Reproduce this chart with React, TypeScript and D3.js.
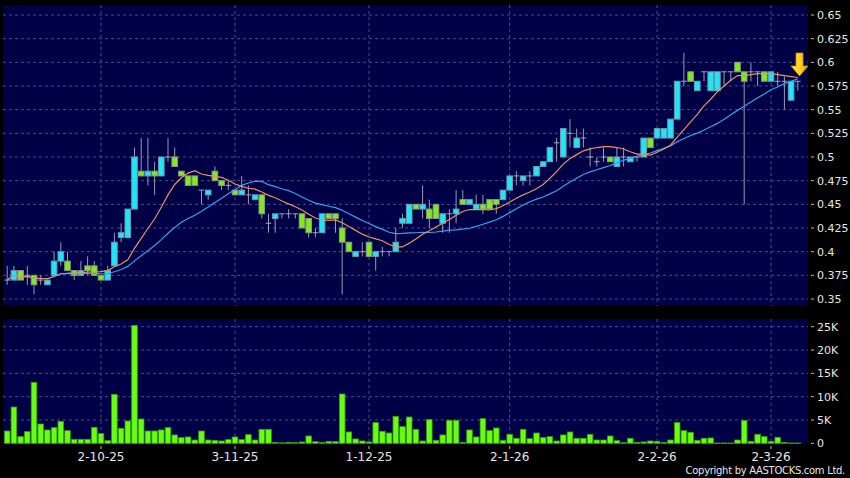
import React from "react";
import * as d3 from "d3";

const opens = [0.37,0.37,0.38,0.375,0.375,0.37,0.365,0.375,0.39,0.39,0.38,0.375,0.385,0.385,0.375,0.37,0.385,0.415,0.415,0.445,
0.485,0.48,0.485,0.48,0.50,0.50,0.485,0.48,0.48,0.465,0.46,0.485,0.475,0.47,0.465,0.46,0.46,0.455,0.46,0.43,
0.435,0.44,0.44,0.44,0.44,0.435,0.42,0.42,0.44,0.44,0.425,0.41,0.395,0.40,0.41,0.395,0.40,0.40,0.40,0.43,
0.43,0.45,0.445,0.445,0.45,0.43,0.44,0.44,0.455,0.45,0.445,0.45,0.455,0.455,0.455,0.465,0.48,0.475,0.48,0.48,
0.49,0.495,0.515,0.50,0.525,0.51,0.52,0.50,0.495,0.50,0.50,0.49,0.50,0.495,0.50,0.50,0.52,0.52,0.52,0.52,
0.54,0.58,0.59,0.57,0.59,0.57,0.57,0.59,0.59,0.60,0.59,0.59,0.59,0.59,0.58,0.58,0.58,0.56,0.58];
const highs = [0.385,0.385,0.38,0.385,0.375,0.375,0.37,0.40,0.41,0.40,0.38,0.39,0.395,0.39,0.375,0.385,0.42,0.43,0.445,0.51,
0.52,0.52,0.495,0.50,0.52,0.51,0.485,0.48,0.48,0.465,0.465,0.49,0.475,0.475,0.465,0.48,0.47,0.46,0.46,0.44,
0.44,0.44,0.445,0.44,0.44,0.435,0.425,0.44,0.44,0.44,0.435,0.41,0.40,0.41,0.41,0.40,0.405,0.40,0.425,0.44,
0.45,0.45,0.47,0.455,0.45,0.44,0.445,0.465,0.465,0.455,0.46,0.46,0.455,0.455,0.465,0.48,0.485,0.48,0.485,0.49,
0.495,0.51,0.52,0.53,0.54,0.53,0.53,0.51,0.50,0.51,0.50,0.51,0.51,0.50,0.50,0.52,0.52,0.53,0.53,0.54,
0.58,0.61,0.59,0.58,0.59,0.59,0.59,0.59,0.59,0.60,0.59,0.60,0.59,0.59,0.59,0.59,0.585,0.58,0.58];
const lows = [0.365,0.37,0.37,0.365,0.355,0.365,0.365,0.375,0.385,0.38,0.37,0.375,0.375,0.375,0.37,0.37,0.385,0.41,0.415,0.445,
0.48,0.47,0.46,0.48,0.495,0.49,0.48,0.47,0.47,0.45,0.455,0.475,0.465,0.465,0.46,0.46,0.45,0.455,0.435,0.42,
0.42,0.435,0.435,0.435,0.425,0.415,0.415,0.42,0.435,0.42,0.355,0.40,0.395,0.395,0.395,0.38,0.395,0.395,0.40,0.425,
0.43,0.445,0.435,0.425,0.435,0.42,0.42,0.43,0.45,0.45,0.445,0.44,0.445,0.44,0.455,0.465,0.47,0.47,0.47,0.48,
0.49,0.495,0.495,0.50,0.51,0.51,0.51,0.49,0.49,0.495,0.495,0.49,0.49,0.495,0.495,0.50,0.51,0.52,0.52,0.52,
0.54,0.575,0.58,0.57,0.58,0.57,0.57,0.575,0.58,0.59,0.45,0.58,0.575,0.58,0.58,0.575,0.55,0.56,0.57];
const closes = [0.37,0.38,0.37,0.375,0.365,0.37,0.37,0.39,0.40,0.38,0.375,0.38,0.38,0.375,0.37,0.38,0.41,0.42,0.445,0.50,
0.48,0.485,0.48,0.50,0.50,0.49,0.48,0.47,0.47,0.465,0.465,0.475,0.47,0.47,0.46,0.465,0.46,0.46,0.44,0.43,
0.44,0.44,0.44,0.44,0.425,0.42,0.42,0.44,0.435,0.435,0.41,0.40,0.40,0.40,0.395,0.40,0.40,0.40,0.41,0.435,
0.45,0.445,0.45,0.435,0.435,0.44,0.44,0.445,0.45,0.455,0.45,0.445,0.445,0.45,0.465,0.48,0.48,0.48,0.48,0.49,
0.495,0.51,0.515,0.53,0.525,0.52,0.52,0.50,0.495,0.50,0.495,0.50,0.50,0.50,0.50,0.52,0.51,0.53,0.53,0.54,
0.58,0.58,0.58,0.58,0.59,0.59,0.59,0.59,0.59,0.59,0.58,0.59,0.59,0.58,0.59,0.58,0.58,0.58,0.58];
const volumes = [2640,7780,1430,2500,13070,4140,2860,3360,4710,2710,860,860,860,3430,2070,570,10500,3210,4780,25280,
5210,2640,2640,2860,3360,1790,1210,1360,710,2640,710,640,500,790,1360,790,1860,710,3000,3000,
210,100,210,140,290,1570,360,210,430,360,10570,2430,930,500,290,4430,2570,2210,5780,3570,
5640,3000,500,5070,640,1790,4930,4930,210,2860,1360,5280,2710,3280,640,1930,1070,3000,1000,2210,
1210,1430,500,1790,2430,1070,1070,1930,710,710,1570,570,140,1070,210,290,500,430,210,710,
4430,2710,2360,640,1070,1140,70,70,70,710,4860,430,1930,1430,430,1290,210,70,70];

const dateTickIndex = [14, 34, 54, 75, 97, 114];
const dateTickLabels = ["2-10-25", "3-11-25", "1-12-25", "2-1-26", "2-2-26", "2-3-26"];
const priceTicks = [0.35,0.375,0.4,0.425,0.45,0.475,0.5,0.525,0.55,0.575,0.6,0.625,0.65];
const volumeTicks = [0, 5000, 10000, 15000, 20000, 25000];
const volumeTickLabels = ["0", "5K", "10K", "15K", "20K", "25K"];
const maShort = 10;
const maLong = 20;

function sma(vals: number[], n: number): number[] {
  return vals.map((_, i) => {
    const s = vals.slice(Math.max(0, i - n + 1), i + 1);
    return d3.mean(s) as number;
  });
}

export default function App() {
  const W = 850, H = 478;
  const plotL = 3, plotR = 808;
  const topT = 5, topB = 306;
  const volT = 319, volB = 444;
  const n = closes.length;
  const x = d3.scaleLinear().domain([0, n - 1]).range([7.2, 7.2 + 6.7 * (n - 1)]);
  const y = d3.scaleLinear().domain([0.35, 0.65]).range([299, 15]);
  const yv = d3.scaleLinear().domain([0, 25000]).range([443.3, 326.7]);
  const bw = 5.6;
  const fmtP = (v: number) => String(parseFloat(v.toFixed(3)));
  const gridC = "#4c4c88";
  const textC = "#e6e6e6";
  const font = "'DejaVu Sans', Verdana, sans-serif";

  const ma1 = sma(closes, maShort);
  const ma2 = sma(closes, maLong);
  const line = d3.line<number>().x((_, i) => x(i)).y((d) => y(d));

  return (
    <svg width={W} height={H} style={{ position: "fixed", left: 0, top: 0, background: "#000" }}>
      <defs>
        <linearGradient id="arrowG" x1="0" x2="1" y1="0" y2="0">
          <stop offset="0" stopColor="#ffe45a" />
          <stop offset="0.5" stopColor="#ffd21e" />
          <stop offset="1" stopColor="#e7a400" />
        </linearGradient>
      </defs>
      <rect x={0} y={0} width={W} height={H} fill="#000" />
      <rect x={plotL} y={topT} width={plotR - plotL} height={topB - topT} fill="#000046" />
      <rect x={plotL} y={volT} width={plotR - plotL} height={volB - volT} fill="#000046" />

      {priceTicks.map((p) => (
        <g key={"pg" + p}>
          <line x1={plotL} x2={plotR} y1={y(p)} y2={y(p)} stroke={gridC} strokeDasharray="3,3" />
          <line x1={811} x2={814} y1={y(p)} y2={y(p)} stroke="#bbb" />
          <text x={817} y={y(p)} dy="0.36em" fill={textC} fontSize={11} fontFamily={font}>{fmtP(p)}</text>
        </g>
      ))}
      {volumeTicks.map((v, k) => (
        <g key={"vg" + v}>
          {v > 0 && <line x1={plotL} x2={plotR} y1={yv(v)} y2={yv(v)} stroke={gridC} strokeDasharray="3,3" />}
          <line x1={811} x2={814} y1={yv(v)} y2={yv(v)} stroke="#bbb" />
          <text x={817} y={yv(v)} dy="0.36em" fill={textC} fontSize={11} fontFamily={font}>{volumeTickLabels[k]}</text>
        </g>
      ))}
      {dateTickIndex.map((di, k) => (
        <g key={"dt" + di}>
          <line x1={x(di)} x2={x(di)} y1={topT} y2={topB} stroke={gridC} strokeDasharray="3,3" />
          <line x1={x(di)} x2={x(di)} y1={volT} y2={volB} stroke={gridC} strokeDasharray="3,3" />
          <line x1={x(di)} x2={x(di)} y1={446} y2={449} stroke="#bbb" />
          <text x={x(di)} y={460.5} textAnchor="middle" fill={textC} fontSize={12} fontFamily={font}>{dateTickLabels[k]}</text>
        </g>
      ))}

      {closes.map((c, i) => {
        const o = opens[i];
        const cx = x(i);
        const wick = <line x1={cx} x2={cx} y1={y(highs[i])} y2={y(lows[i])} stroke="#9a9ab4" strokeWidth={1} />;
        if (Math.abs(c - o) < 1e-9) {
          return (
            <g key={"c" + i}>
              {wick}
              <line x1={cx - bw / 2} x2={cx + bw / 2} y1={y(c)} y2={y(c)} stroke="#a4a4bc" strokeWidth={1} />
            </g>
          );
        }
        const up = c > o;
        const top = y(Math.max(o, c));
        const bot = y(Math.min(o, c));
        return (
          <g key={"c" + i}>
            {wick}
            <rect x={cx - bw / 2} y={top} width={bw} height={Math.max(1, bot - top)}
              fill={up ? "#1ee6f6" : "#80ea1e"} stroke={up ? "#6a9ab0" : "#8a9a80"} strokeWidth={1} />
          </g>
        );
      })}

      <path d={line(ma2) || ""} fill="none" stroke="#3a9ff0" strokeWidth={1.2} />
      <path d={line(ma1) || ""} fill="none" stroke="#e8925e" strokeWidth={1.2} />

      {volumes.map((v, i) => (
        <rect key={"v" + i} x={x(i) - bw / 2} y={yv(v)} width={bw} height={Math.max(0.5, yv(0) - yv(v))}
          fill="#66ff11" stroke="#3f9a10" strokeWidth={0.8} />
      ))}

      <path d="M796,53 L803,53 L803,66 L808,66 L799.5,76 L791,66 L796,66 Z" fill="url(#arrowG)" stroke="#c98c00" strokeWidth={0.8} />

      <text x={845} y={474} textAnchor="end" fill={textC} fontSize={10} letterSpacing={-0.3} fontFamily={font}>Copyright by AASTOCKS.com Ltd.</text>
    </svg>
  );
}
